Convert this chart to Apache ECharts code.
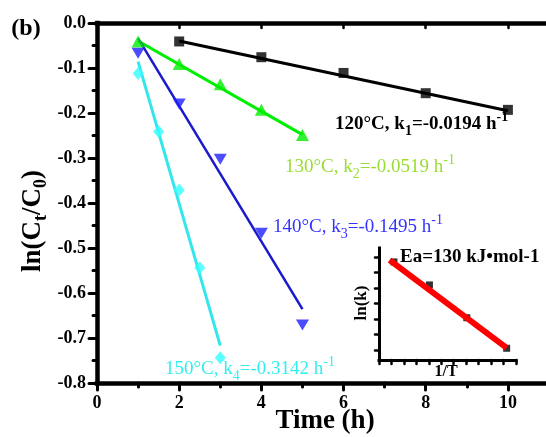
<!DOCTYPE html>
<html><head><meta charset="utf-8">
<script src="https://cdn.jsdelivr.net/npm/echarts@6/dist/echarts.min.js"></script>
<style>html,body{margin:0;padding:0;background:#fff}#c{width:546px;height:437px}</style>
</head><body><div id="c"></div>
<script>
const FONT = "'Liberation Serif','Times New Roman',serif";

// 120 °C
const time120 = [2, 4, 6, 8, 10];
const ln120 = [-0.041, -0.076, -0.111, -0.156, -0.193];
const fitTime120 = [2, 10];
const fitLn120 = [-0.040, -0.195];
// 130 °C
const time130 = [1, 2, 3, 4, 5];
const ln130 = [-0.041, -0.091, -0.136, -0.193, -0.249];
const fitTime130 = [1, 5];
const fitLn130 = [-0.040, -0.248];
// 140 °C
const time140 = [1, 2, 3, 4, 5];
const ln140 = [-0.067, -0.180, -0.303, -0.467, -0.671];
const fitTime140 = [1, 5];
const fitLn140 = [-0.034, -0.636];
// 150 °C
const time150 = [1, 1.5, 2, 2.5, 3];
const ln150 = [-0.112, -0.241, -0.371, -0.544, -0.744];
const fitTime150 = [1, 3];
const fitLn150 = [-0.086, -0.717];
// inset: Arrhenius plot
const invT = [2.364, 2.421, 2.481, 2.545];
const lnK = [-1.158, -1.900, -2.958, -3.942];
const fitInvT = [2.357, 2.545];
const fitLnK = [-1.10, -3.93];
const insetYTicks = [-4, -3.5, -3, -2.5, -2, -1.5, -1];

const zip = (xs, ys) => xs.map((x, i) => [x, ys[i]]);

const chart = echarts.init(document.getElementById('c'), null, {renderer: 'canvas'});

const axisLine = w => ({show: true, onZero: false, lineStyle: {color: '#000', width: w, cap: 'square'}});
const tickStyle = w => ({color: '#000', width: w, cap: 'round'});

const rich = (size, bold, color) => {
  const fw = bold ? 'bold' : 'normal';
  return {
    n: {fontSize: size, fontWeight: fw, fontFamily: FONT, fill: color, color: color, lineHeight: 28, verticalAlign: 'middle'},
    s: {fontSize: Math.round(size * 0.72), fontWeight: fw, fontFamily: FONT, fill: color, color: color, lineHeight: 13, verticalAlign: 'bottom'},
    p: {fontSize: Math.round(size * 0.72), fontWeight: fw, fontFamily: FONT, fill: color, color: color, lineHeight: 13, verticalAlign: 'top'}
  };
};

function kLabel(x, y, temp, idx, k, color, bold) {
  return {
    type: 'text', x: x, y: y, z: 50,
    style: {
      text: '{n|' + temp + '\u00b0C, k}{s|' + idx + '}{n|=' + k + ' h}{p|-1}',
      rich: rich(19, bold, color),
      textAlign: 'left', align: 'left', textVerticalAlign: 'middle', verticalAlign: 'middle',
      fill: color
    }
  };
}

const option = {
  backgroundColor: '#fff',
  animation: false,
  grid: [
    {left: 97, top: 23, width: 452, height: 360, containLabel: false, outerBoundsMode: 'none'},
    {left: 379, top: 248, width: 137, height: 112, containLabel: false, outerBoundsMode: 'none'}
  ],
  xAxis: [
    {
      type: 'value', gridIndex: 0, position: 'bottom', min: 0, max: 11, interval: 2,
      axisLine: axisLine(4.5),
      axisTick: {show: true, length: 7, lineStyle: tickStyle(3)},
      minorTick: {show: true, splitNumber: 2, length: 4, lineStyle: tickStyle(3)},
      splitLine: {show: false},
      axisLabel: {show: true, color: '#000', fontSize: 18, fontWeight: 'bold', fontFamily: FONT, margin: 11,
        formatter: v => (v % 2 === 0 ? String(v) : '')}
    },
    {
      type: 'value', gridIndex: 0, position: 'top', min: 0, max: 11, interval: 2,
      axisLine: axisLine(4.5),
      axisTick: {show: true, inside: true, length: 5, lineStyle: tickStyle(2.5)},
      minorTick: {show: false},
      splitLine: {show: false},
      axisLabel: {show: false}
    },
    {
      type: 'value', gridIndex: 1, position: 'bottom', min: 2.34, max: 2.56, interval: 0.02,
      axisLine: axisLine(3),
      axisTick: {show: true, length: 4, lineStyle: tickStyle(2.5)},
      splitLine: {show: false},
      axisLabel: {show: false}
    }
  ],
  yAxis: [
    {
      type: 'value', gridIndex: 0, position: 'left', min: -0.8, max: 0, interval: 0.1,
      axisLine: axisLine(4.5),
      axisTick: {show: true, length: 8, lineStyle: tickStyle(3)},
      minorTick: {show: true, splitNumber: 2, length: 4, lineStyle: tickStyle(3)},
      splitLine: {show: false},
      axisLabel: {show: true, color: '#000', fontSize: 18, fontWeight: 'bold', fontFamily: FONT, margin: 11,
        formatter: v => (Math.abs(v) < 1e-9 ? '0.0' : v.toFixed(1))}
    },
    {
      type: 'value', gridIndex: 1, position: 'left', min: -4.32, max: -0.71,
      axisLine: axisLine(3),
      axisTick: {show: true, length: 4, customValues: insetYTicks, lineStyle: tickStyle(2.5)},
      splitLine: {show: false},
      axisLabel: {show: false}
    }
  ],
  series: [
    {type: 'line', xAxisIndex: 0, yAxisIndex: 0, data: zip(fitTime120, fitLn120), symbol: 'none', z: 2,
      lineStyle: {color: '#000', width: 3}},
    {type: 'line', xAxisIndex: 0, yAxisIndex: 0, data: zip(fitTime130, fitLn130), symbol: 'none', z: 2,
      lineStyle: {color: '#00ee00', width: 3}},
    {type: 'line', xAxisIndex: 0, yAxisIndex: 0, data: zip(fitTime140, fitLn140), symbol: 'none', z: 2,
      lineStyle: {color: '#1a1acc', width: 2.5}},
    {type: 'line', xAxisIndex: 0, yAxisIndex: 0, data: zip(fitTime150, fitLn150), symbol: 'none', z: 2,
      lineStyle: {color: '#33e6ee', width: 3}},
    {type: 'scatter', xAxisIndex: 0, yAxisIndex: 0, data: zip(time120, ln120), symbol: 'rect', symbolSize: 10, z: 3,
      itemStyle: {color: '#000'}},
    {type: 'scatter', xAxisIndex: 0, yAxisIndex: 0, data: zip(time130, ln130), symbol: 'triangle', symbolSize: [13, 12], z: 3,
      itemStyle: {color: '#00ee00'}},
    {type: 'scatter', xAxisIndex: 0, yAxisIndex: 0, data: zip(time140, ln140), symbol: 'triangle', symbolRotate: 180, symbolSize: [13, 11], z: 3,
      itemStyle: {color: '#1f1fff'}},
    {type: 'scatter', xAxisIndex: 0, yAxisIndex: 0, data: zip(time150, ln150), symbol: 'diamond', symbolSize: [11, 13], z: 3,
      itemStyle: {color: '#33ffff'}},
    {type: 'scatter', xAxisIndex: 2, yAxisIndex: 1, data: zip(invT, lnK), symbol: 'rect', symbolSize: 7, z: 3,
      itemStyle: {color: '#000'}},
    {type: 'line', xAxisIndex: 2, yAxisIndex: 1, data: zip(fitInvT, fitLnK), symbol: 'none', z: 4,
      lineStyle: {color: '#ff0000', width: 6}}
  ],
  graphic: [
    {type: 'text', x: 26, y: 29, z: 50, style: {text: '(b)', font: 'bold 24px ' + FONT, fill: '#000',
      textAlign: 'center', align: 'center', textVerticalAlign: 'middle', verticalAlign: 'middle'}},
    {type: 'text', x: 33, y: 221, rotation: Math.PI / 2, z: 50, style: {
      text: '{n|ln(C}{s|t}{n|/C}{s|0}{n|)}',
      rich: {
        n: {fontSize: 27, fontWeight: 'bold', fontFamily: FONT, fill: '#000', lineHeight: 34, verticalAlign: 'middle'},
        s: {fontSize: 18, fontWeight: 'bold', fontFamily: FONT, fill: '#000', lineHeight: 18, verticalAlign: 'bottom'}
      },
      textAlign: 'center', align: 'center', textVerticalAlign: 'middle', verticalAlign: 'middle'}},
    {type: 'text', x: 325, y: 421, z: 50, style: {text: 'Time (h)', font: 'bold 27px ' + FONT, fill: '#000',
      textAlign: 'center', align: 'center', textVerticalAlign: 'middle', verticalAlign: 'middle'}},
    kLabel(335, 124, '120', '1', '-0.0194', '#000', true),
    kLabel(285, 167, '130', '2', '-0.0519', '#99dd33', false),
    kLabel(273, 227, '140', '3', '-0.1495', '#3333ff', false),
    kLabel(165, 369, '150', '4', '-0.3142', '#33eeee', false),
    {type: 'text', x: 400, y: 257, z: 50, style: {text: 'Ea=130 kJ\u2022mol-1', font: 'bold 19px ' + FONT, fill: '#000',
      textAlign: 'left', align: 'left', textVerticalAlign: 'middle', verticalAlign: 'middle'}},
    {type: 'text', x: 362, y: 303, rotation: Math.PI / 2, z: 50, style: {text: 'ln(k)', font: 'bold 17px ' + FONT, fill: '#000',
      textAlign: 'center', align: 'center', textVerticalAlign: 'middle', verticalAlign: 'middle'}},
    {type: 'text', x: 446, y: 372, z: 50, style: {text: '1/T', font: 'bold 16px ' + FONT, fill: '#000',
      textAlign: 'center', align: 'center', textVerticalAlign: 'middle', verticalAlign: 'middle'}}
  ]
};
chart.setOption(option);
</script>
</body></html>
